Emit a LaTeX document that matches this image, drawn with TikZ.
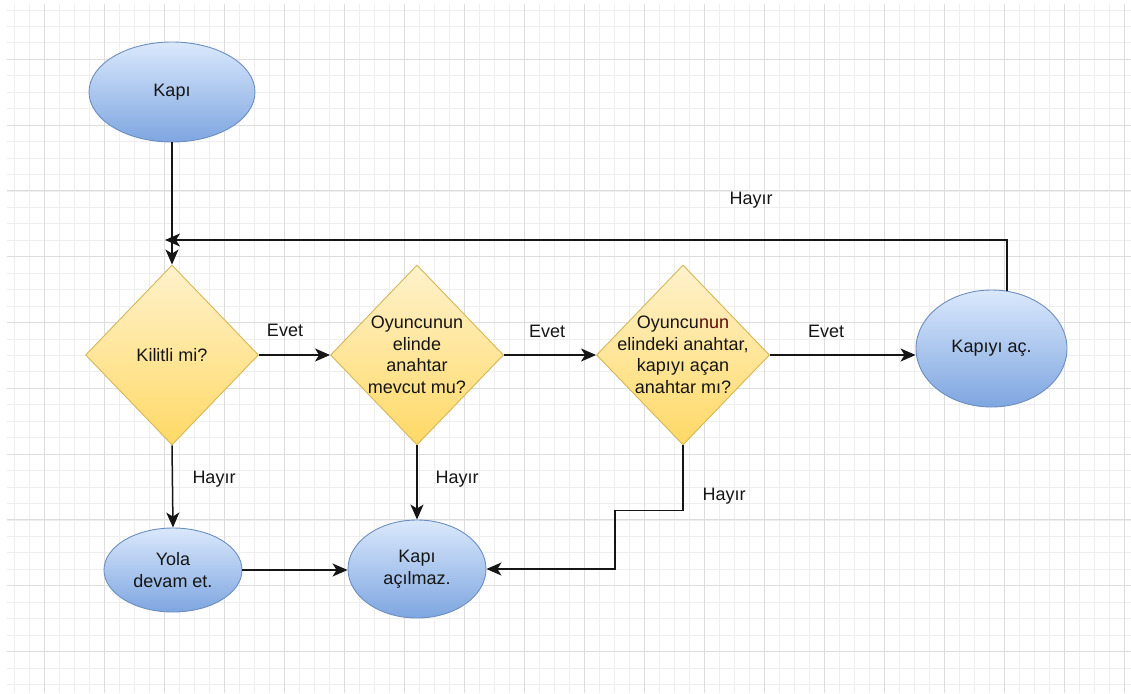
\documentclass[tikz,border=0pt]{standalone}
\usepackage{fontspec}
\setmainfont{Liberation Sans}
\usetikzlibrary{shapes.geometric,arrows.meta}
\definecolor{gridminor}{HTML}{EEEEEE}
\definecolor{gridmajor}{HTML}{DDDDDD}
\definecolor{ink}{HTML}{151515}
\definecolor{bluetop}{HTML}{DAE8FC}
\definecolor{bluebot}{HTML}{7EA6E0}
\definecolor{blueline}{HTML}{6C8EBF}
\definecolor{yeltop}{HTML}{FFF2CC}
\definecolor{yelbot}{HTML}{FFD966}
\definecolor{yelline}{HTML}{D6B656}
\definecolor{darkred}{HTML}{5C0A0A}
\begin{document}
\begin{tikzpicture}[x=1pt,y=-1pt,
  txt/.style={text=ink,font=\fontsize{18}{21.5}\selectfont,align=center},
  term/.style={ellipse,draw=blueline,line width=0.9pt,top color=bluetop,bottom color=bluebot,
    inner sep=0pt,txt},
  decide/.style={diamond,draw=yelline,line width=0.9pt,top color=yeltop,bottom color=yelbot,
    inner sep=0pt,minimum width=173pt,minimum height=180pt},
  lbl/.style={txt,inner sep=0pt},
  arr/.style={draw=ink,line width=1.5pt,-{Stealth[length=15pt,width=13pt,inset=4pt]}}]
\useasboundingbox (0,0) rectangle (1131,693);
\fill[white] (0,0) rectangle (1131,693);
% background grid
\foreach \gx in {14,29,...,1131} \draw[gridminor,line width=0.8pt] (\gx,4) -- (\gx,693);
\foreach \k in {0,...,41} \draw[gridminor,line width=0.8pt] (7,{9.95+16.45*\k}) -- (1131,{9.95+16.45*\k});
\foreach \gx in {44,104,...,1131} \draw[gridmajor,line width=0.9pt] (\gx,4) -- (\gx,693);
\foreach \k in {0,...,10} \draw[gridmajor,line width=0.9pt] (7,{59.3+65.8*\k}) -- (1131,{59.3+65.8*\k});

% nodes
\node[term,minimum width=166pt,minimum height=100pt] (kapi) at (172,92) {Kapı};
\node[decide,label={[txt]center:Kilitli mi?}] (kilit) at (172,355) {};
\node[decide,label={[txt]center:{Oyuncunun\\elinde\\anahtar\\mevcut mu?}}] (mevcut) at (417,355) {};
\node[decide,label={[txt]center:{Oyuncu\textcolor{darkred}{nun}\\elindeki anahtar,\\kapıyı açan\\anahtar mı?}}] (dogru) at (683,355) {};
\node[term,minimum width=151pt,minimum height=117pt] (ac) at (991.5,348.5) {Kapıyı aç.};
\node[term,minimum width=138pt,minimum height=84pt] (yola) at (173,570) {Yola\\devam et.};
\node[term,minimum width=138pt,minimum height=98pt] (acilmaz) at (417,569) {Kapı\\açılmaz.};
\coordinate (geri) at (165,240);

% connectors
\draw[arr] (kapi.south) -- (kilit.north);
\draw[arr] (kilit.east) -- (mevcut.west);
\draw[arr] (mevcut.east) -- (dogru.west);
\draw[arr] (dogru.east) -- (dogru.east -| ac.west);
\draw[arr] (ac.75) |- (geri);
\draw[arr] (kilit.south) -- (yola.north);
\draw[arr] (mevcut.south) -- (acilmaz.north);
\draw[arr] (yola.east) -- (yola.east -| acilmaz.west);
\draw[arr] (dogru.south) -- ++(0,65) -- ++(-68,0) |- (acilmaz.east);

% edge labels
\node[lbl] (e1) at (285,330) {Evet};
\node[lbl] (e2) at (547,331) {Evet};
\node[lbl] (e3) at (826,331) {Evet};
\node[lbl] (h0) at (751,200) {Hayır};
\node[lbl] (h1) at (214,479) {Hayır};
\node[lbl] (h2) at (457,479) {Hayır};
\node[lbl] (h3) at (724,496) {Hayır};
\end{tikzpicture}
\end{document}
